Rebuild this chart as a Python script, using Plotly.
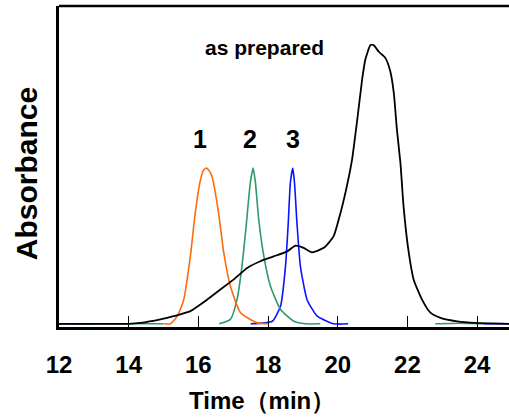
import plotly.graph_objects as go

# ---- data ----
black_t = [12.0, 13.0, 14.0, 14.34, 14.91, 15.29, 15.77, 16.25, 16.63, 17.01, 17.40, 17.78,
           18.16, 18.55, 18.79, 19.02, 19.26, 19.60, 19.88, 20.08, 20.22, 20.41, 20.56,
           20.70, 20.79, 20.94, 21.03, 21.18, 21.37, 21.51, 21.61, 21.70, 21.80, 21.89,
           22.04, 22.18, 22.42, 22.66, 22.95, 23.43, 23.95, 24.95]
black_v = [0.0, 0.0, 0.0, 0.003, 0.014, 0.024, 0.040, 0.076, 0.108, 0.139, 0.176, 0.197,
           0.212, 0.228, 0.246, 0.239, 0.225, 0.239, 0.275, 0.349, 0.412, 0.516, 0.642,
           0.768, 0.830, 0.877, 0.877, 0.856, 0.836, 0.794, 0.726, 0.610, 0.506, 0.369,
           0.223, 0.139, 0.076, 0.035, 0.019, 0.008, 0.003, 0.0]

orange_t = [15.00, 15.20, 15.40, 15.58, 15.77, 15.91, 16.06, 16.15, 16.23, 16.31, 16.39,
            16.58, 16.73, 16.92, 17.21, 17.69, 18.00]
orange_v = [0.0, 0.0, 0.025, 0.076, 0.212, 0.349, 0.453, 0.484, 0.490, 0.482, 0.464,
            0.349, 0.223, 0.118, 0.035, 0.003, 0.0]

green_t = [12.5, 13.5, 15.0, None, 16.60, 16.92, 17.11, 17.25, 17.38, 17.49, 17.57, 17.64,
           17.73, 17.88, 18.07, 18.36, 18.74, 19.07, 19.50, None, 22.80, 23.50, 24.20]
green_v = [0.0, 0.0, 0.0, None, 0.0, 0.014, 0.076, 0.180, 0.317, 0.443, 0.490, 0.443,
           0.330, 0.212, 0.118, 0.045, 0.008, 0.0, 0.0, None, 0.0, 0.002, 0.0]

blue_t = [12.0, 12.5, 13.0, None, 17.50, 18.12, 18.36, 18.50, 18.58, 18.64, 18.71, 18.76,
          18.83, 18.93, 19.12, 19.41, 19.88, 20.30, None, 24.20, 24.95]
blue_v = [0.0, 0.0, 0.0, None, 0.0, 0.008, 0.056, 0.180, 0.317, 0.443, 0.490, 0.443,
          0.317, 0.180, 0.076, 0.024, 0.0, 0.0, None, 0.0, 0.0]

x_ticks = [12, 14, 16, 18, 20, 22, 24]
tick_labels = ["12", "14", "16", "18", "20", "22", "24"]
peak_labels = ["1", "2", "3"]
peak_label_t = [16.06, 17.48, 18.73]

FONT = "Liberation Sans, Arial, sans-serif"

fig = go.Figure()
fig.add_trace(go.Scatter(x=blue_t, y=blue_v, mode="lines",
                         line=dict(color="#0a14ff", width=1.6, shape="spline", smoothing=0.5),
                         connectgaps=False))
fig.add_trace(go.Scatter(x=green_t, y=green_v, mode="lines",
                         line=dict(color="#2e9a68", width=1.6, shape="spline", smoothing=0.5),
                         connectgaps=False))
fig.add_trace(go.Scatter(x=orange_t, y=orange_v, mode="lines",
                         line=dict(color="#ff6a10", width=1.6, shape="spline", smoothing=0.5)))
fig.add_trace(go.Scatter(x=black_t, y=black_v, mode="lines",
                         line=dict(color="black", width=1.8, shape="spline", smoothing=0.5)))

for lab, t in zip(peak_labels, peak_label_t):
    fig.add_annotation(x=t, y=0.58, text=lab, showarrow=False, xref="x", yref="y",
                       xanchor="center", yanchor="middle",
                       font=dict(size=25, color="black", family=FONT, weight="bold"))
fig.add_annotation(x=17.9, y=0.87, text="as prepared", showarrow=False, xref="x", yref="y",
                   xanchor="center", yanchor="middle",
                   font=dict(size=21, color="black", family=FONT, weight="bold"))
fig.add_annotation(x=0.45, y=-0.229, xref="paper", yref="paper", text="Time（min）",
                   xanchor="center", yanchor="middle", showarrow=False,
                   font=dict(size=24, color="black", family=FONT, weight="bold"))
fig.add_annotation(x=-0.072, y=0.478, xref="paper", yref="paper", text="Absorbance",
                   textangle=-90, showarrow=False, xanchor="center", yanchor="middle",
                   font=dict(size=30, color="black", family=FONT, weight="bold"))

# top border (no right border visible in the reference)
fig.add_shape(type="line", xref="paper", yref="paper", x0=0, x1=1, y0=1, y1=1,
              line=dict(color="black", width=2.5))

fig.update_layout(
    width=509, height=418,
    margin=dict(l=59, r=0, t=6, b=91),
    paper_bgcolor="white", plot_bgcolor="white",
    showlegend=False,
    font=dict(family=FONT, color="black"),
)
fig.update_xaxes(range=[12, 24.916], tickmode="array", tickvals=x_ticks, ticktext=tick_labels,
                 ticks="inside", ticklen=11, tickwidth=1, tickcolor="black",
                 showline=True, linecolor="black", linewidth=3, showgrid=False, zeroline=False,
                 tickfont=dict(size=24, family=FONT, color="black", weight="bold"),
                 ticklabelstandoff=14)
fig.update_yaxes(range=[-0.01, 1.0], showticklabels=False, ticks="",
                 showline=True, linecolor="black", linewidth=3, showgrid=False, zeroline=False)

fig.write_html("out.html")
